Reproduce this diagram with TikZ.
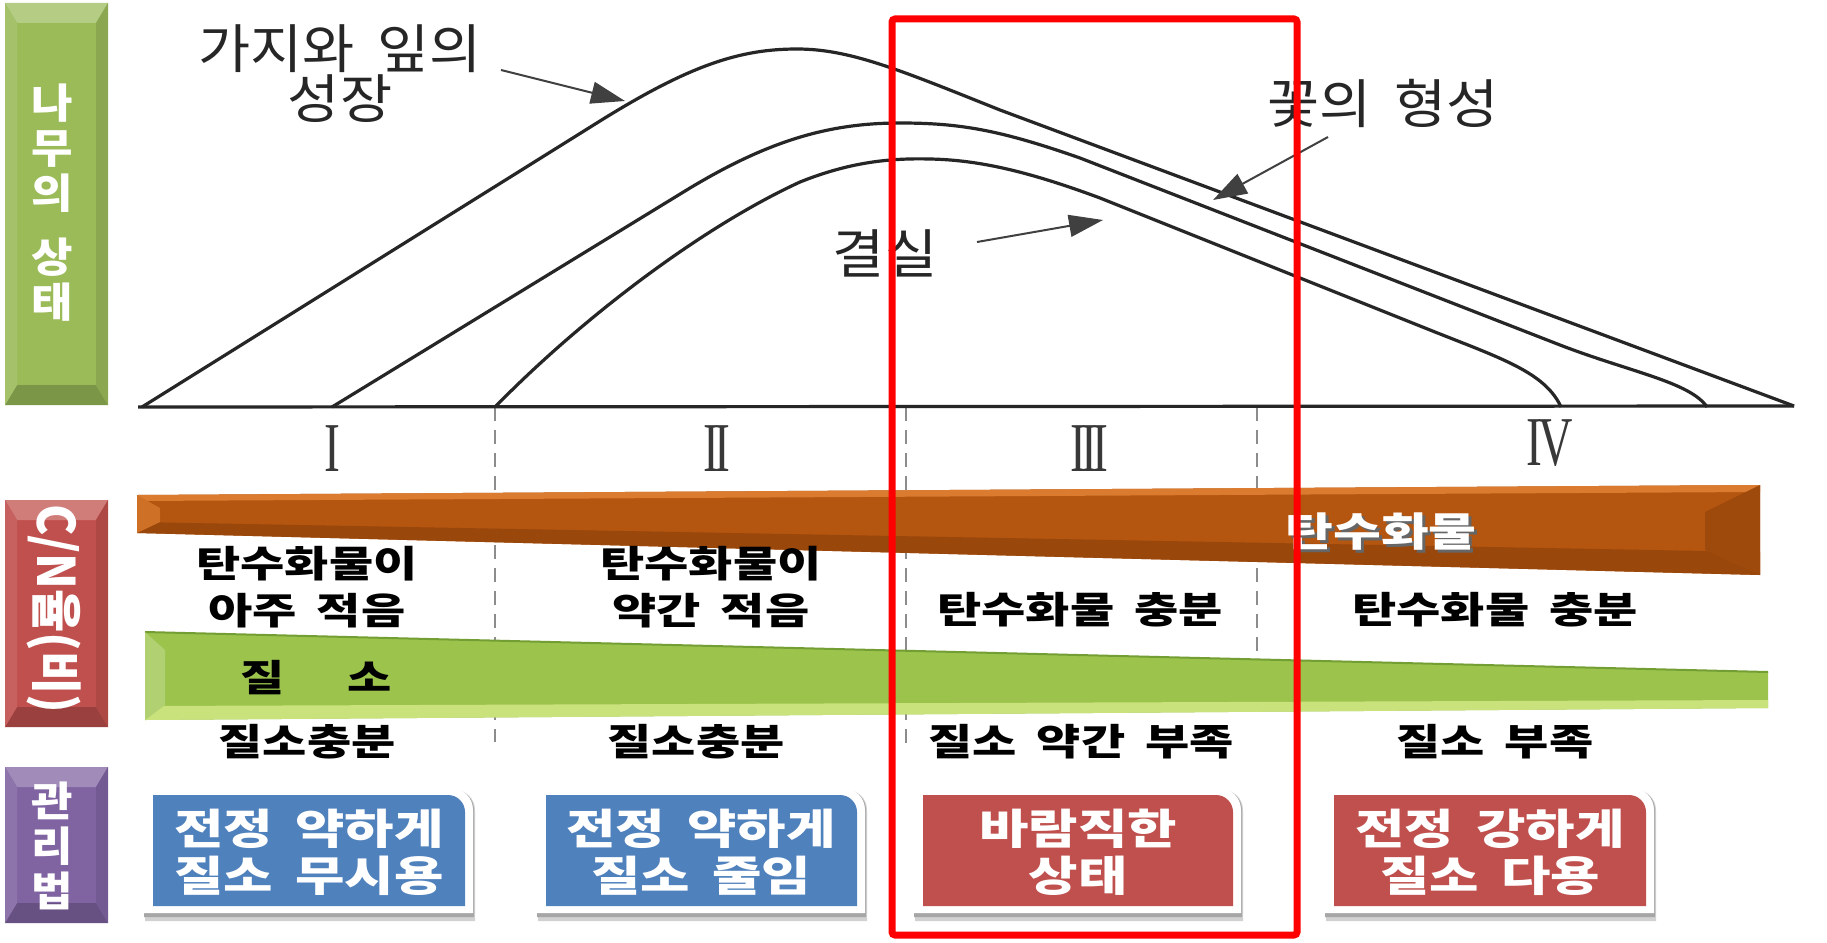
\documentclass[tikz,border=0pt]{standalone}
\usepackage{fontspec}
\newfontfamily\kr[WordSpace=1.8]{Noto Sans CJK KR}
\newfontfamily\romf{Liberation Serif}
\usetikzlibrary{arrows.meta,calc}
\definecolor{pgreen}{HTML}{9BBB59}
\definecolor{pred}{HTML}{C0504D}
\definecolor{ppurple}{HTML}{8064A2}
\definecolor{pblue}{HTML}{4F81BD}
\definecolor{obar}{HTML}{B45510}
\definecolor{obarhi}{HTML}{DA7B30}
\definecolor{obarlo}{HTML}{9A470C}
\definecolor{gbar}{HTML}{9CC44D}
\definecolor{gbarhi}{HTML}{C9E27C}
\definecolor{gbarlo}{HTML}{739E33}
\newcommand\bevelpanel[5]{%
  \fill[#5] (#1,#2) rectangle (#3,#4);
  \fill[#5!75!white] (#1,#2) -- (#3,#2) -- (#3-12,#2+20) -- (#1+12,#2+20) -- cycle;
  \fill[#5!80!black] (#1,#4) -- (#3,#4) -- (#3-12,#4-20) -- (#1+12,#4-20) -- cycle;
  \fill[#5!90!white] (#1,#2) -- (#1+12,#2+20) -- (#1+12,#4-20) -- (#1,#4) -- cycle;
  \fill[#5!90!black] (#3,#2) -- (#3-12,#2+20) -- (#3-12,#4-20) -- (#3,#4) -- cycle;
}
\newcommand\mgbox[5]{%
  \fill[black!18] (#1-8,#4+15) -- (#1-8,#2-5) [rounded corners=20pt]-- (#3+10,#2-5) [sharp corners]-- (#3+10,#4+15) -- cycle;
  \fill[black!35] (#1-9,#4+11) -- (#1-9,#2-5) [rounded corners=20pt]-- (#3+9,#2-5) [sharp corners]-- (#3+9,#4+11) -- cycle;
  \fill[white] (#1-9,#4+7) -- (#1-9,#2-7) [rounded corners=22pt]-- (#3+8,#2-7) [sharp corners]-- (#3+8,#4+7) -- cycle;
  \fill[#5] (#1,#4) -- (#1,#2) [rounded corners=17pt]-- (#3,#2) [sharp corners]-- (#3,#4) -- cycle;
}
\begin{document}
\begin{tikzpicture}[x=1pt,y=-1pt,
  body/.style={font=\kr\bfseries\fontsize{37}{47}\selectfont, align=center, xscale=1.3, inner sep=0pt},
  boxtxt/.style={font=\kr\bfseries\fontsize{42}{47}\selectfont, text=white, align=center, xscale=1.28, inner sep=0pt},
  paneltxt/.style={font=\kr\bfseries\fontsize{41}{45}\selectfont, text=white, align=center, xscale=1.1, inner sep=0pt},
  lbl/.style={font=\kr\fontsize{53}{50}\selectfont, text=black!85, align=center, xscale=1.07, inner sep=0pt},
  romnum/.style={font=\romf\fontsize{70}{70}\selectfont, text=black!78, xscale=0.68, inner sep=0pt},
  curve/.style={line width=3.2pt, black!85, line join=round},
  pointer/.style={line width=2pt, black!75, -{Triangle[length=34pt,width=22pt]}},
  sep/.style={black!45, line width=2.2pt, dash pattern=on 14pt off 9pt},
]
\fill[white] (0,0) rectangle (1827,942);
\useasboundingbox (0,0) rectangle (1827,942);

% left panels
\bevelpanel{5}{3}{108}{405}{pgreen}
\bevelpanel{5}{500}{108}{727}{pred}
\bevelpanel{5}{767}{108}{923}{ppurple}
\node[paneltxt] (ptree) at (52,203) {나\\무\\의\\[19pt]상\\태};
\node[paneltxt, rotate=-90, xscale=1] (pcn) at (54,609) {\fontsize{47}{47}\selectfont C/N율(비)};
\node[paneltxt] (pmgmt) at (52,846) {관\\리\\법};

% dashed separators
\draw[sep] (495,407) -- (495,742);
\draw[sep] (906,407) -- (906,748);
\draw[sep] (1257,407) -- (1257,700);

% chart
\draw[curve] (138,407) -- (1794,406);
\draw[curve] (142,407) -- (600,121) .. controls (690,65) and (740,49) .. (797,49)
  .. controls (850,49) and (900,70) .. (1000,110) -- (1794,406);
\draw[curve] (332,407) -- (690,188) .. controls (770,140) and (830,123) .. (900,123)
  .. controls (960,123) and (1000,130) .. (1080,158) -- (1560,345)
  .. controls (1630,372) and (1690,382) .. (1707,407);
\draw[curve] (495,407) .. controls (580,320) and (700,228) .. (800,182)
  .. controls (850,162) and (890,158) .. (930,159)
  .. controls (980,160) and (1030,172) .. (1100,198) -- (1430,330)
  .. controls (1500,358) and (1545,372) .. (1561,407);

\node[romnum] (r1) at (332,449) {I};
\node[romnum] (r2) at (717,449) {I\kern-0.1em I};
\node[romnum] (r3) at (1089,449) {I\kern-0.1em I\kern-0.1em I};
\node[romnum] (r4) at (1550,443) {I\kern-0.08em V};

\node[lbl] (lgrow) at (340,74) {가지와 잎의\\성장};
\node[lbl] (lflower) at (1383,103) {꽃의 형성};
\node[lbl] (lfruit) at (885,253) {결실};
\coordinate (growS) at (501,70);
\coordinate (growT) at (625,101);
\coordinate (flowS) at (1328,137);
\coordinate (flowT) at (1213,200);
\coordinate (fruitS) at (977,242);
\coordinate (fruitT) at (1103,220);
\draw[pointer] (growS) -- (growT);
\draw[pointer] (flowS) -- (flowT);
\draw[pointer] (fruitS) -- (fruitT);

% orange bar
\fill[obar] (137,495) -- (1760,485) -- (1760,575) -- (137,533) -- cycle;
\fill[obarlo] (137,522) -- (1760,552) -- (1760,575) -- (137,533) -- cycle;
\fill[obarhi] (137,495) -- (1760,485) -- (1760,492) -- (137,501) -- cycle;
\fill[obarhi!70!obar] (137,495) -- (160,508) -- (160,522) -- (137,533) -- cycle;
\fill[obarlo!80!obar] (1760,485) -- (1705,512) -- (1705,550) -- (1760,575) -- cycle;
\node[body, text=black!60, font=\kr\bfseries\fontsize{40}{47}\selectfont] at (1384,535) {탄수화물};
\node[body, text=white, font=\kr\bfseries\fontsize{40}{47}\selectfont] (carb) at (1381,532) {탄수화물};

% green bar
\fill[gbar] (145,632) -- (1768,672) -- (1768,708) -- (145,720) -- cycle;
\fill[gbarhi] (145,706) -- (1768,700) -- (1768,708) -- (145,720) -- cycle;
\draw[gbarlo, line width=2pt] (145,632) -- (1768,672);
\fill[gbar!80!white] (145,632) -- (165,650) -- (165,705) -- (145,720) -- cycle;
\node[body] (nitro) at (316,678) {질\hspace{1.3em}소};

% texts
\node[body] (c1) at (307,587) {탄수화물이\\아주 적음};
\node[body] (c2) at (711,587) {탄수화물이\\약간 적음};
\node[body] (c3) at (1080,610) {탄수화물 충분};
\node[body] (c4) at (1495,610) {탄수화물 충분};
\node[body] (n1) at (307,742) {질소충분};
\node[body] (n2) at (696,742) {질소충분};
\node[body] (n3) at (1081,742) {질소 약간 부족};
\node[body] (n4) at (1495,742) {질소 부족};

% management boxes
\mgbox{153}{795}{465}{906}{pblue}
\mgbox{546}{795}{857}{906}{pblue}
\mgbox{923}{795}{1233}{906}{pred}
\mgbox{1334}{795}{1646}{906}{pred}
\node[boxtxt] (m1) at (309,852) {전정 약하게\\질소 무시용};
\node[boxtxt] (m2) at (701,852) {전정 약하게\\질소 줄임};
\node[boxtxt] (m3) at (1078,852) {바람직한\\상태};
\node[boxtxt] (m4) at (1490,852) {전정 강하게\\질소 다용};

% highlight frame
\draw[red, line width=7pt, rounded corners=3pt] (892,19) rectangle (1297,935);
\end{tikzpicture}
\end{document}
